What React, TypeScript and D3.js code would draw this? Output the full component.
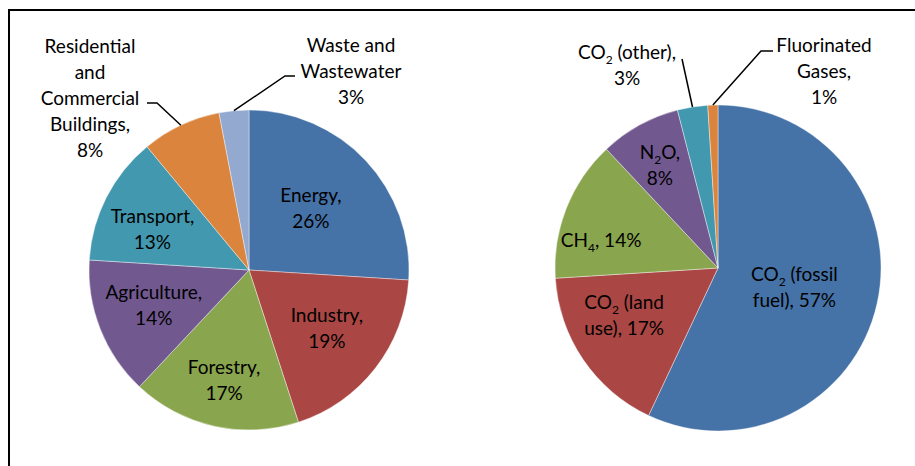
import { useEffect, useRef } from "react"
import * as d3 from "d3"

// left pie: emissions by sector
const sectorLabels = [
  ["Energy,", "%v"],
  ["Industry,", "%v"],
  ["Forestry,", "%v"],
  ["Agriculture,", "%v"],
  ["Transport,", "%v"],
  ["Residential", "and", "Commercial", "Buildings,", "%v"],
  ["Waste and", "Wastewater", "%v"],
]
const sectorValues = [26, 19, 17, 14, 13, 8, 3]
const sectorColors = ["#4572A7", "#AA4643", "#89A54E", "#71588F", "#4198AF", "#DB843D", "#93A9CF"]

// right pie: emissions by gas ({n} = subscript)
const gasLabels = [
  ["CO{2} (fossil", "fuel), %v"],
  ["CO{2} (land", "use), %v"],
  ["CH{4}, %v"],
  ["N{2}O,", "%v"],
  ["CO{2} (other),", "%v"],
  ["Fluorinated", "Gases,", "%v"],
]
const gasValues = [57, 17, 14, 8, 3, 1]
const gasColors = ["#4572A7", "#AA4643", "#89A54E", "#71588F", "#4198AF", "#DB843D"]

// label placement: inside labels are nudged from the arc centroid,
// outside labels get an anchor plus a leader line (elbow -> end)
type Place =
  | { kind: "in"; dx: number; dy: number }
  | { kind: "out"; x: number; y: number; elbow: [number, number]; end: [number, number] }

const sectorPlaces: Place[] = [
  { kind: "in", dx: -8, dy: 4 },
  { kind: "in", dx: 2, dy: -1 },
  { kind: "in", dx: -4, dy: 16 },
  { kind: "in", dx: -6, dy: 0 },
  { kind: "in", dx: -11, dy: 3 },
  { kind: "out", x: 90, y: 98, elbow: [157, 103], end: [147, 103] },
  { kind: "out", x: 351, y: 71, elbow: [285, 76], end: [295, 76] },
]
const gasPlaces: Place[] = [
  { kind: "in", dx: -19, dy: -2 },
  { kind: "in", dx: -13, dy: -8 },
  { kind: "in", dx: -26, dy: 8 },
  { kind: "in", dx: -11, dy: -17 },
  { kind: "out", x: 627, y: 65, elbow: [682, 59], end: [682, 59] },
  { kind: "out", x: 824, y: 71, elbow: [761, 51], end: [773, 51] },
]

const FONT = "Lato, 'Open Sans', sans-serif"
const LINE_H = 26

export default function App() {
  const svgRef = useRef<SVGSVGElement>(null)

  useEffect(() => {
    if (!svgRef.current) return
    const svg = d3.select(svgRef.current)
    svg.selectAll("*").remove()

    // chart frame (right and bottom edges fall outside the picture)
    svg
      .append("rect")
      .attr("x", 9)
      .attr("y", 10)
      .attr("width", 1000)
      .attr("height", 1000)
      .attr("fill", "none")
      .attr("stroke", "#000")
      .attr("stroke-width", 2)

    const drawPie = (
      values: number[],
      labels: string[][],
      colors: string[],
      places: Place[],
      cx: number,
      cy: number,
      r: number,
    ) => {
      const pie = d3.pie<number>().sort(null).value((d) => d)
      const arcs = pie(values)
      const arc = d3.arc<d3.PieArcDatum<number>>().innerRadius(0).outerRadius(r)
      const labelArc = d3.arc<d3.PieArcDatum<number>>().innerRadius(r * 0.6).outerRadius(r * 0.6)

      const g = svg.append("g").attr("transform", `translate(${cx}, ${cy})`)

      g.selectAll("path")
        .data(arcs)
        .enter()
        .append("path")
        .attr("d", arc)
        .attr("fill", (_, i) => colors[i])
        .attr("stroke", "rgba(255,255,255,0.5)")
        .attr("stroke-width", 0.8)

      arcs.forEach((a, i) => {
        const place = places[i]
        const lines = labels[i].map((s) => s.replace("%v", `${values[i]}%`))
        let lx: number
        let ly: number
        if (place.kind === "in") {
          const [px, py] = labelArc.centroid(a)
          lx = px + place.dx
          ly = py + place.dy
        } else {
          lx = place.x - cx
          ly = place.y - cy
          const mid = (a.startAngle + a.endAngle) / 2
          const edge: [number, number] = [r * Math.sin(mid), -r * Math.cos(mid)]
          const pts: [number, number][] = [
            edge,
            [place.elbow[0] - cx, place.elbow[1] - cy],
            [place.end[0] - cx, place.end[1] - cy],
          ]
          g.append("path")
            .attr("d", d3.line()(pts))
            .attr("fill", "none")
            .attr("stroke", "#000")
            .attr("stroke-width", 1.5)
        }

        const text = g
          .append("text")
          .attr("text-anchor", "middle")
          .attr("font-family", FONT)
          .attr("font-size", 19)
          .attr("fill", "#000")

        lines.forEach((line, li) => {
          const y = ly + (li - (lines.length - 1) / 2) * LINE_H + 7
          const t = text.append("tspan").attr("x", lx).attr("y", y)
          // split into normal / subscript pieces
          const parts = line.split(/(\{[^}]*\})/).filter((p) => p.length > 0)
          let shifted = false
          parts.forEach((p) => {
            if (p.startsWith("{")) {
              t.append("tspan").attr("font-size", 12).attr("dy", 5).text(p.slice(1, -1))
              shifted = true
            } else {
              const s = t.append("tspan").text(p)
              if (shifted) {
                s.attr("dy", -5)
                shifted = false
              }
            }
          })
        })
      })
    }

    drawPie(sectorValues, sectorLabels, sectorColors, sectorPlaces, 249, 270, 160)
    drawPie(gasValues, gasLabels, gasColors, gasPlaces, 718, 268, 163)
  }, [])

  return (
    <svg
      ref={svgRef}
      width={915}
      height={466}
      style={{ position: "absolute", left: 0, top: 0, background: "#fff" }}
    />
  )
}
